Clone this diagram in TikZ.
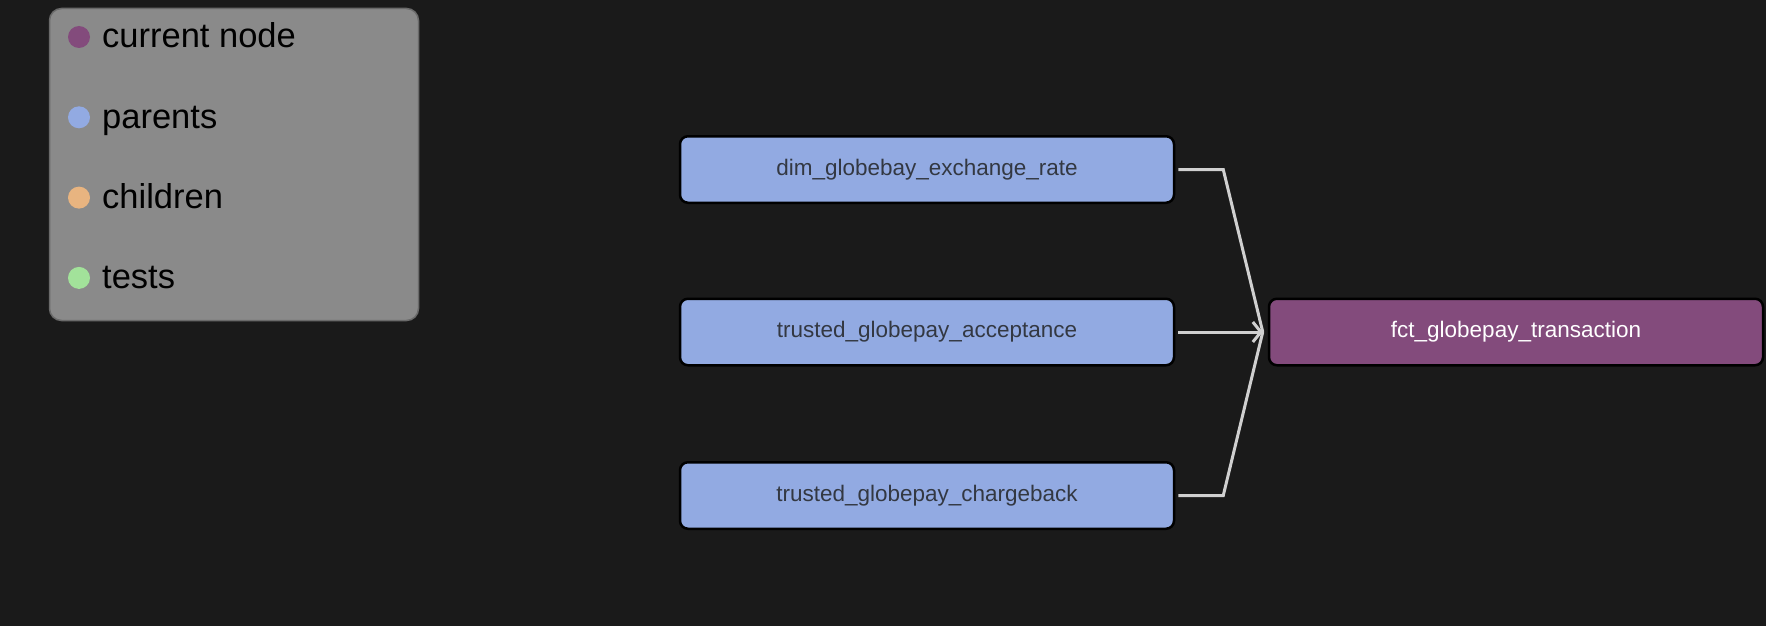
\documentclass[tikz,border=0pt]{standalone}
\usepackage{fontspec}
\setmainfont{Liberation Sans}
\usepackage{xcolor}
\usepackage{tikz}
\usetikzlibrary{arrows.meta}

\definecolor{bgdark}{HTML}{1A1A1A}
\definecolor{legendgray}{HTML}{8A8A8A}
\definecolor{legendedge}{HTML}{6A6A6A}
\definecolor{parentblue}{HTML}{92AAE2}
\definecolor{currentpurple}{HTML}{834B7C}
\definecolor{childorange}{HTML}{E8B480}
\definecolor{testgreen}{HTML}{A2E29A}
\definecolor{modeltext}{HTML}{333842}
\definecolor{edgegray}{HTML}{D0D0D0}

\begin{document}
\begin{tikzpicture}[x = 1pt, y = -1pt,
		model/.style = {draw = black, line width = 2.5pt, rounded corners = 8pt, minimum width = 494pt, minimum height = 66.5pt, font = \fontsize{22.5}{27}\selectfont},
		parent/.style = {model, fill = parentblue, text = modeltext},
		current/.style = {model, fill = currentpurple, text = white},
		edge/.style = {draw = edgegray, line width = 3pt, shorten < = 3pt},
		legdot/.style = {circle, fill = #1, inner sep = 0pt, minimum size = 22pt},
		legtext/.style = {anchor = base west, inner sep = 0pt, font = \fontsize{34.5}{40}\selectfont, text = black}]
		\fill[bgdark] (0,0) rectangle (1766,626);
		\useasboundingbox (0,0) rectangle (1766,626);
		\node[draw = legendedge, fill = legendgray, line width = 1.5pt, rounded corners = 12pt, minimum width = 369pt, minimum height = 312pt] (legend) at (234,164.5) {};
		\foreach \col/\txt [count = \i] in {currentpurple/current node, parentblue/parents, childorange/children, testgreen/tests}{
			\pgfmathsetmacro{\y}{37 + 80.3 * (\i - 1)};
			\node[legdot = \col] (dot\i) at (79,\y) {};
			\node[legtext] (key\i) at (102,\y + 11) {\txt};
		}
		\node[parent] (rate) at (927,169.5) {dim\_globebay\_exchange\_rate};
		\node[parent] (acceptance) at (927,332) {trusted\_globepay\_acceptance};
		\node[parent] (chargeback) at (927,495.5) {trusted\_globepay\_chargeback};
		\node[current] (transaction) at (1516,332) {fct\_globepay\_transaction};
		\coordinate (merge) at ([xshift = -5pt]transaction.west);
		\draw[edge] (rate.east) -- ++(48,0) -- (merge);
		\draw[edge] (chargeback.east) -- ++(48,0) -- (merge);
		\draw[edge, -{Straight Barb[length = 8pt, width = 20pt]}] (acceptance) -- (merge);
	\end{tikzpicture}
\end{document}
